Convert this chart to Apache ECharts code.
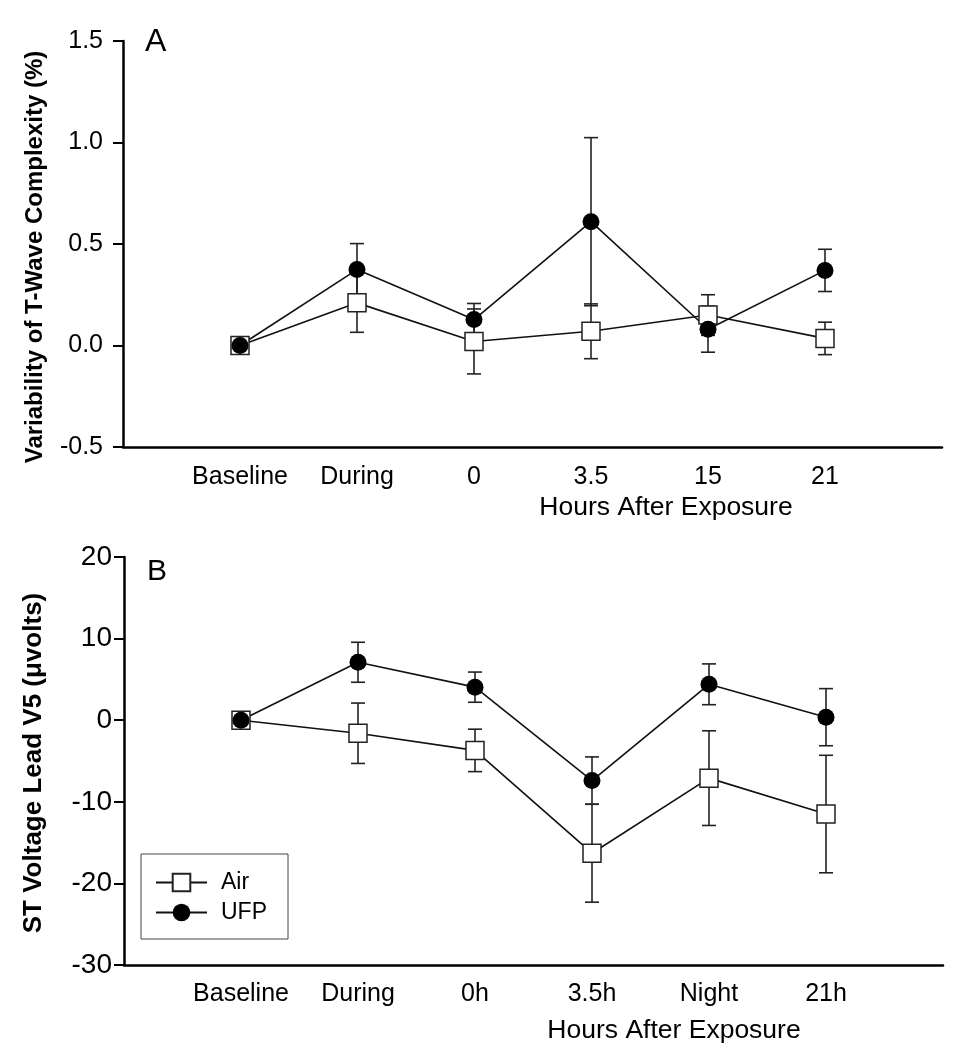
<!DOCTYPE html>
<html>
<head>
    <meta charset="utf-8">
    <title>T-Wave / ST Voltage</title>
    <script src="https://cdn.jsdelivr.net/npm/echarts@6/dist/echarts.min.js"></script>
    <style>
        html, body { margin: 0; padding: 0; background: #fff; }
    </style>
</head>
<body>
<div id="main" style="width: 954px;height:1050px;"></div>
<script type="text/javascript">

    // panel A: variability of T-wave complexity (%)
    var catsA = ['Baseline', 'During', '0', '3.5', '15', '21'];
    var airA = [0, 0.21, 0.02, 0.07, 0.15, 0.035];
    var airErrA = [0, 0.145, 0.16, 0.135, 0.10, 0.08];
    var ufpA = [0, 0.374, 0.128, 0.61, 0.08, 0.37];
    var ufpErrA = [0, 0.128, 0.079, 0.414, 0.113, 0.104];

    // panel B: ST voltage lead V5 (uvolts)
    var catsB = ['Baseline', 'During', '0h', '3.5h', 'Night', '21h'];
    var airB = [0, -1.6, -3.7, -16.3, -7.1, -11.5];
    var airErrB = [0, 3.7, 2.6, 6.0, 5.8, 7.2];
    var ufpB = [0, 7.1, 4.05, -7.4, 4.4, 0.37];
    var ufpErrB = [0, 2.45, 1.85, 2.9, 2.5, 3.5];

    var FONT = '"Liberation Sans", Arial, Helvetica, sans-serif';

    // points sit at x = 1..6 on a 0..7 axis
    function pts(vals) {
        return vals.map(function (v, i) { return [i + 1, v]; });
    }
    function errPts(vals, errs) {
        return vals.map(function (v, i) { return [i + 1, v, errs[i]]; });
    }

    function renderErr(params, api) {
        var e = api.value(2);
        if (!e) return;
        var x = api.value(0), y = api.value(1);
        var hi = api.coord([x, y + e]);
        var lo = api.coord([x, y - e]);
        var w = 7;
        var st = { stroke: '#222', lineWidth: 1.6 };
        return {
            type: 'group',
            children: [
                { type: 'line', shape: { x1: hi[0], y1: hi[1], x2: lo[0], y2: lo[1] }, style: st },
                { type: 'line', shape: { x1: hi[0] - w, y1: hi[1], x2: hi[0] + w, y2: hi[1] }, style: st },
                { type: 'line', shape: { x1: lo[0] - w, y1: lo[1], x2: lo[0] + w, y2: lo[1] }, style: st }
            ]
        };
    }

    function xAxisFor(idx, cats, margin) {
        return {
            type: 'value', gridIndex: idx, min: 0, max: 7, interval: 1,
            splitLine: { show: false },
            axisTick: { show: false },
            axisLine: { show: true, onZero: false, lineStyle: { color: '#000', width: 2.5 } },
            axisLabel: {
                margin: margin, fontSize: 25, color: '#000', fontFamily: FONT,
                formatter: function (v) { return cats[v - 1] || ''; }
            }
        };
    }

    function yAxisFor(idx, min, max, step, fs, margin, dec) {
        return {
            type: 'value', gridIndex: idx, min: min, max: max, interval: step,
            splitLine: { show: false },
            axisLine: { show: true, lineStyle: { color: '#000', width: 2.5 } },
            axisTick: { show: true, length: 10, lineStyle: { color: '#000', width: 2 } },
            axisLabel: {
                margin: margin, fontSize: fs, color: '#000', fontFamily: FONT,
                formatter: function (v) { return v.toFixed(dec); }
            }
        };
    }

    var squareStyle = { color: '#fff', borderColor: '#222', borderWidth: 1.5 };
    var circleStyle = { color: '#000' };
    var lineStyle = { color: '#111', width: 1.6 };

    function lineSeries(name, vals, idx, symbol, size, style) {
        return {
            name: name, type: 'line', xAxisIndex: idx, yAxisIndex: idx,
            data: pts(vals), symbol: symbol, symbolSize: size,
            showAllSymbol: true,
            itemStyle: style, lineStyle: lineStyle,
            emphasis: { disabled: true }
        };
    }

    function errSeries(name, vals, errs, idx) {
        return {
            name: name, type: 'custom', xAxisIndex: idx, yAxisIndex: idx,
            data: errPts(vals, errs), renderItem: renderErr,
            encode: { x: 0, y: [1] }, silent: true
        };
    }

    var myChart = echarts.init(document.getElementById('main'));

    myChart.setOption({
        animation: false,
        backgroundColor: '#fff',
        grid: [
            { left: 123, top: 41, width: 819, height: 406 },
            { left: 124, top: 557, width: 819, height: 408 }
        ],
        xAxis: [xAxisFor(0, catsA, 18), xAxisFor(1, catsB, 17)],
        yAxis: [
            yAxisFor(0, -0.5, 1.5, 0.5, 25, 20, 1),
            yAxisFor(1, -30, 20, 10, 28, 12, 0)
        ],
        legend: {
            data: ['Air', 'UFP'],
            orient: 'vertical',
            left: 141, top: 854,
            padding: [17, 21, 15, 14],
            itemGap: 7,
            itemWidth: 51, itemHeight: 22,
            borderColor: '#444', borderWidth: 1,
            selectedMode: false,
            textStyle: { fontSize: 23, color: '#000', fontFamily: FONT, padding: [0, 0, 0, 9] }
        },
        graphic: [
            { type: 'text', x: 145, y: 42, style: { text: 'A', font: '32px ' + FONT, fill: '#000', textVerticalAlign: 'middle' } },
            { type: 'text', x: 147, y: 572, style: { text: 'B', font: '30px ' + FONT, fill: '#000', textVerticalAlign: 'middle' } },
            { type: 'text', x: 35, y: 257, rotation: Math.PI / 2, style: { text: 'Variability of T-Wave Complexity (%)', font: 'bold 24px ' + FONT, fill: '#000', textAlign: 'center', textVerticalAlign: 'middle' } },
            { type: 'text', x: 34, y: 763, rotation: Math.PI / 2, style: { text: 'ST Voltage Lead V5 (\u03bcvolts)', font: 'bold 26px ' + FONT, fill: '#000', textAlign: 'center', textVerticalAlign: 'middle' } },
            { type: 'text', x: 666, y: 508, style: { text: 'Hours After Exposure', font: '26.5px ' + FONT, fill: '#000', textAlign: 'center', textVerticalAlign: 'middle' } },
            { type: 'text', x: 674, y: 1031, style: { text: 'Hours After Exposure', font: '26.5px ' + FONT, fill: '#000', textAlign: 'center', textVerticalAlign: 'middle' } }
        ],
        series: [
            errSeries('errAirA', airA, airErrA, 0),
            errSeries('errUfpA', ufpA, ufpErrA, 0),
            lineSeries('Air', airA, 0, 'rect', 18, squareStyle),
            lineSeries('UFP', ufpA, 0, 'circle', 17, circleStyle),
            errSeries('errAirB', airB, airErrB, 1),
            errSeries('errUfpB', ufpB, ufpErrB, 1),
            lineSeries('Air', airB, 1, 'rect', 18, squareStyle),
            lineSeries('UFP', ufpB, 1, 'circle', 17, circleStyle)
        ]
    });

</script>
</body>
</html>
